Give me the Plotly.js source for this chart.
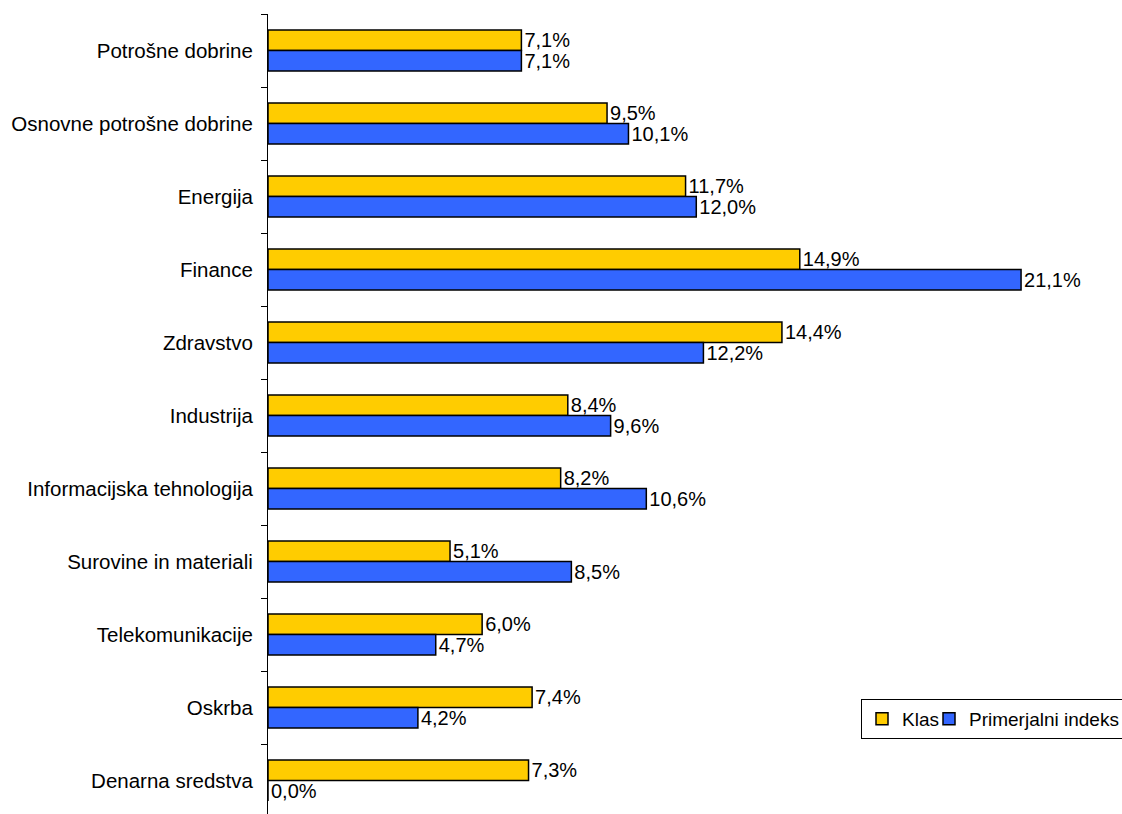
<!DOCTYPE html>
<html>
<head>
<meta charset="utf-8">
<script src="https://cdn.plot.ly/plotly-3.0.1.min.js"></script>
<style>html,body{margin:0;padding:0;background:#fff;}#chart{width:1122px;height:814px;}</style>
</head>
<body>
<div id="chart"></div>
<script>
const categories = [
  "Potrošne dobrine",
  "Osnovne potrošne dobrine",
  "Energija",
  "Finance",
  "Zdravstvo",
  "Industrija",
  "Informacijska tehnologija",
  "Surovine in materiali",
  "Telekomunikacije",
  "Oskrba",
  "Denarna sredstva"
];
const klasValues = [7.1, 9.5, 11.7, 14.9, 14.4, 8.4, 8.2, 5.1, 6.0, 7.4, 7.3];
const indeksValues = [7.1, 10.1, 12.0, 21.1, 12.2, 9.6, 10.6, 8.5, 4.7, 4.2, 0.0];
const seriesNames = ["Klas", "Primerjalni indeks"];

const fmt = v => v.toFixed(1).replace('.', ',') + '%';
const FONT = "Liberation Sans, Arial, sans-serif";

const W = 1122, H = 814;
const mL = 268, mR = 0, mT = 14, mB = 0;
const pxPerPct = 35.69;
const plotW = W - mL - mR;
const plotH = H - mT - mB;
const catPx = 73;

function trace(name, vals, color, lw) {
  return {
    type: 'bar', orientation: 'h', name: name,
    x: vals, y: categories,
    marker: {color: color, line: {color: '#000', width: 1.5}},
    text: vals.map(fmt), textposition: 'outside', cliponaxis: false,
    constraintext: 'none',
    textfont: {family: FONT, size: 20, color: '#000'},
    legendwidth: lw,
    hoverinfo: 'skip'
  };
}

const data = [
  trace(seriesNames[0], klasValues, '#FFCC00', 22),
  trace(seriesNames[1], indeksValues, '#3366FF', 160)
];

const layout = {
  width: W, height: H,
  margin: {l: mL, r: mR, t: mT, b: mB, pad: 0, autoexpand: false},
  paper_bgcolor: '#fff', plot_bgcolor: '#fff',
  font: {family: FONT, size: 20, color: '#000'},
  barmode: 'group', bargap: 0.44, bargroupgap: 0,
  showlegend: true,
  legend: {
    orientation: 'h', xref: 'container', yref: 'container',
    x: 861 / W, xanchor: 'left', y: 1 - 699 / H, yanchor: 'top',
    bgcolor: '#fff', bordercolor: '#000', borderwidth: 1,
    font: {family: FONT, size: 19, color: '#000'},
    traceorder: 'normal', itemwidth: 30
  },
  xaxis: {
    range: [0, plotW / pxPerPct],
    visible: false, showgrid: false, zeroline: false, fixedrange: true
  },
  yaxis: {
    type: 'category', categoryorder: 'array', categoryarray: categories,
    range: [-0.5 + plotH / catPx, -0.5],
    showline: true, linecolor: '#000', linewidth: 1,
    ticks: 'outside', tickson: 'boundaries', ticklen: 6, tickcolor: '#000', tickwidth: 1,
    ticklabelstandoff: 10,
    showgrid: false, zeroline: false, fixedrange: true,
    tickfont: {family: FONT, size: 20.5, color: '#000'}
  }
};

Plotly.newPlot('chart', data, layout, {displayModeBar: false, staticPlot: true});
</script>
</body>
</html>
